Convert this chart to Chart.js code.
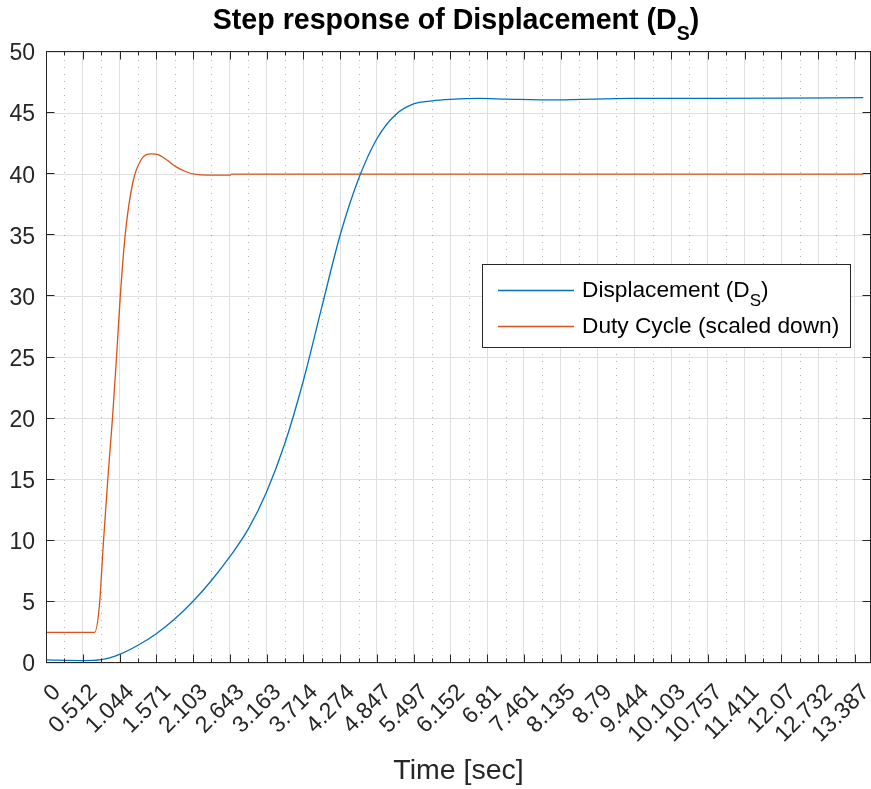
<!DOCTYPE html>
<html>
<head>
<meta charset="utf-8">
<script src="https://cdn.jsdelivr.net/npm/chart.js@4.4.0/dist/chart.umd.min.js"></script>
<style>
  html, body { margin: 0; padding: 0; background: #fff; }
  #grafico { display: block; }
</style>
</head>
<body>
<canvas id="grafico" width="871" height="789"></canvas>
<script>
// etiquetas del eje de tiempo (una por cada tick mayor)
const tiempos = ['0', '0.512', '1.044', '1.571', '2.103', '2.643', '3.163', '3.714', '4.274', '4.847',
    '5.497', '6.152', '6.81', '7.461', '8.135', '8.79', '9.444', '10.103', '10.757', '11.411',
    '12.07', '12.732', '13.387'];
const xMax = 22.44;
const yMin = 0;
const yMax = 50;
const yPaso = 5;

// Displacement (D_S), posicion en ticks del eje x
const despX = [0, 1.0, 1.5, 2.0, 2.5, 3.0, 3.5, 4.0, 4.5, 5.0, 5.5, 6.0, 6.5, 7.0, 7.5, 8.0, 8.5,
    9.0, 9.5, 10.0, 10.5, 11.0, 11.8, 12.5, 13.9, 15.9, 18.0, 20.0, 22.23];
const despY = [0.25, 0.2, 0.27, 0.7, 1.45, 2.4, 3.6, 5.05, 6.75, 8.7, 10.95, 14.0, 18.0, 23.1, 29.1, 35.0, 39.6,
    42.9, 44.85, 45.75, 46.0, 46.12, 46.2, 46.15, 46.08, 46.2, 46.2, 46.22, 46.27];

// Duty Cycle (scaled down)
const dutyX = [0, 1.32, 1.45, 1.56, 1.68, 1.81, 1.92, 2.02, 2.16, 2.36, 2.59, 2.86, 3.05, 3.27, 3.54,
    3.81, 4.04, 4.4, 5.0, 5.05, 22.23];
const dutyY = [2.5, 2.5, 4.6, 9.8, 15.0, 20.1, 25.1, 30.0, 35.2, 39.3, 41.2, 41.66, 41.6, 41.2, 40.6,
    40.2, 40.0, 39.92, 39.92, 40.0, 40.0];

const azul = '#0072bd';
const naranja = '#d95319';
const ejeColor = '#262626';
const fuente = "'Liberation Sans', Arial, Helvetica, sans-serif";

Chart.defaults.font.family = fuente;
Chart.defaults.color = ejeColor;

function puntos(xs, ys) {
    return xs.map((v, i) => ({ x: v, y: ys[i] }));
}

// texto con subindice: [normal, sub, normal]
function textoSub(ctx, partes, x, y, size, bold, sub) {
    const peso = bold ? 'bold ' : '';
    let cx = x;
    partes.forEach((p, i) => {
        const esSub = i === 1;
        ctx.font = peso + (esSub ? sub : size) + 'px ' + fuente;
        ctx.fillText(p, cx, esSub ? y + size * 0.38 : y);
        cx += ctx.measureText(p).width;
    });
    return cx - x;
}

function anchoSub(ctx, partes, size, bold, sub) {
    const peso = bold ? 'bold ' : '';
    let w = 0;
    partes.forEach((p, i) => {
        ctx.font = peso + (i === 1 ? sub : size) + 'px ' + fuente;
        w += ctx.measureText(p).width;
    });
    return w;
}

const cajaPlugin = {
    id: 'caja',
    beforeDatasetsDraw(chart) {
        const { ctx, chartArea: a, scales: { x } } = chart;
        ctx.save();
        ctx.strokeStyle = 'rgba(38,38,38,0.35)';
        ctx.lineWidth = 1;
        ctx.setLineDash([1, 6]);
        for (let i = 0; i < tiempos.length - 1; i++) {
            const px = Math.round(x.getPixelForValue(i + 0.5)) + 0.5;
            ctx.beginPath();
            ctx.moveTo(px, a.bottom);
            ctx.lineTo(px, a.top);
            ctx.stroke();
        }
        ctx.restore();
    },
    afterDatasetsDraw(chart) {
        const { ctx, chartArea: a, scales: { x, y } } = chart;
        const l = Math.round(a.left) + 0.5, r = Math.round(a.right) - 0.5;
        const t = Math.round(a.top) - 0.5, b = Math.round(a.bottom) - 0.5;
        ctx.save();
        ctx.strokeStyle = ejeColor;
        ctx.lineWidth = 1;
        ctx.beginPath();
        // ticks x (mayores y menores) hacia adentro
        for (let v = 0; v <= xMax; v += 0.5) {
            const px = Math.round(x.getPixelForValue(v)) + 0.5;
            const len = Number.isInteger(v) ? 8 : 4;
            ctx.moveTo(px, b); ctx.lineTo(px, b - len);
            ctx.moveTo(px, t); ctx.lineTo(px, t + len);
        }
        for (let v = yMin; v <= yMax; v += yPaso) {
            const py = Math.round(y.getPixelForValue(v)) - 0.5;
            ctx.moveTo(l, py); ctx.lineTo(l + 8, py);
            ctx.moveTo(r, py); ctx.lineTo(r - 8, py);
        }
        ctx.stroke();
        ctx.strokeRect(l, t, r - l, b - t);
        ctx.restore();
    },
    afterDraw(chart) {
        const { ctx, chartArea: a } = chart;
        ctx.save();
        // titulo
        ctx.fillStyle = '#000';
        ctx.textBaseline = 'alphabetic';
        const tit = ['Step response of Displacement (D', 'S', ')'];
        const w = anchoSub(ctx, tit, 28.6, true, 19.5);
        textoSub(ctx, tit, 456 - w / 2, 29, 28.6, true, 19.5);

        // leyenda
        ctx.fillStyle = '#fff';
        ctx.fillRect(482, 264, 368, 83);
        ctx.strokeStyle = ejeColor;
        ctx.lineWidth = 1;
        ctx.strokeRect(482.5, 264.5, 368, 83);
        const items = [
            { partes: ['Displacement (D', 'S', ')'], color: azul, y: 290 },
            { partes: ['Duty Cycle (scaled down)'], color: naranja, y: 326 }
        ];
        items.forEach(it => {
            ctx.strokeStyle = it.color;
            ctx.lineWidth = 1.3;
            ctx.beginPath();
            ctx.moveTo(498, it.y + 0.5);
            ctx.lineTo(574, it.y + 0.5);
            ctx.stroke();
            ctx.fillStyle = '#000';
            textoSub(ctx, it.partes, 582, it.y + 7, 22.7, false, 17);
        });
        ctx.restore();
    }
};

const ctx = document.getElementById('grafico');
const myChart = new Chart(ctx, {
    type: 'line',
    data: {
        datasets: [{
            label: 'Displacement (D_S)',
            data: puntos(despX, despY),
            borderColor: azul,
            borderWidth: 1.3,
            pointRadius: 0,
            fill: false,
            cubicInterpolationMode: 'monotone'
        }, {
            label: 'Duty Cycle (scaled down)',
            data: puntos(dutyX, dutyY),
            borderColor: naranja,
            borderWidth: 1.3,
            pointRadius: 0,
            fill: false,
            cubicInterpolationMode: 'monotone'
        }]
    },
    options: {
        responsive: false,
        animation: false,
        events: [],
        layout: {
            padding: { top: 52, right: 0, left: 0, bottom: 0 }
        },
        plugins: {
            legend: { display: false },
            title: { display: false },
            tooltip: { enabled: false }
        },
        scales: {
            x: {
                type: 'linear',
                min: 0,
                max: xMax,
                afterBuildTicks: s => { s.ticks = tiempos.map((t, i) => ({ value: i })); },
                afterFit: s => {
                    s.height = 126;
                    s.paddingLeft = 0;
                    s.paddingRight = 0;
                },
                grid: { color: '#dfdfdf', drawTicks: false },
                border: { display: false },
                ticks: {
                    autoSkip: false,
                    minRotation: 45,
                    maxRotation: 45,
                    padding: 16,
                    labelOffset: 11,
                    color: ejeColor,
                    font: { size: 23 },
                    callback: v => tiempos[Math.round(v)]
                },
                title: {
                    display: true,
                    text: 'Time [sec]',
                    color: ejeColor,
                    font: { size: 28.5 },
                    padding: { top: 0, bottom: 1 }
                }
            },
            y: {
                min: yMin,
                max: yMax,
                afterFit: s => {
                    s.width = 46;
                    s.paddingTop = 0;
                    s.paddingBottom = 0;
                },
                grid: { color: '#dfdfdf', drawTicks: false },
                border: { display: false },
                ticks: {
                    stepSize: yPaso,
                    padding: 11,
                    labelOffset: 2,
                    color: ejeColor,
                    font: { size: 23 }
                }
            }
        }
    },
    plugins: [cajaPlugin]
});
</script>
</body>
</html>
